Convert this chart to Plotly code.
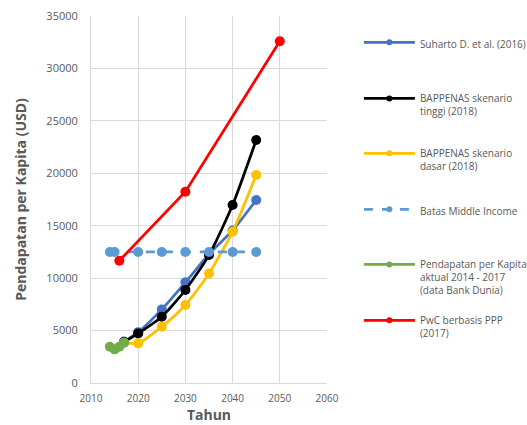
import plotly.graph_objects as go

# Income per capita projections (USD)
suharto_years = [2017, 2020, 2025, 2030, 2035, 2040, 2045]
suharto_vals = [3950, 4850, 7020, 9600, 12300, 14550, 17450]

tinggi_years = [2017, 2020, 2025, 2030, 2035, 2040, 2045]
tinggi_vals = [3900, 4730, 6320, 8870, 12200, 16970, 23170]

dasar_years = [2017, 2020, 2025, 2030, 2035, 2040, 2045]
dasar_vals = [3850, 3780, 5370, 7440, 10450, 14420, 19830]

mid_years = [2014, 2015, 2020, 2025, 2030, 2035, 2040, 2045]
mid_vals = [12500, 12500, 12500, 12500, 12500, 12500, 12500, 12500]

actual_years = [2014, 2015, 2016, 2017]
actual_vals = [3460, 3210, 3460, 3840]

pwc_years = [2016, 2030, 2050]
pwc_vals = [11660, 18240, 32600]

series = [
    ("Suharto D. et al. (2016)", suharto_years, suharto_vals, "#4472C4", "solid", "spline"),
    ("BAPPENAS skenario<br>tinggi (2018)", tinggi_years, tinggi_vals, "#000000", "solid", "spline"),
    ("BAPPENAS skenario<br>dasar (2018)", dasar_years, dasar_vals, "#FFC000", "solid", "spline"),
    ("Batas Middle Income", mid_years, mid_vals, "#5B9BD5", "dash", "linear"),
    ("Pendapatan per Kapita<br>aktual 2014 - 2017<br>(data Bank Dunia)", actual_years, actual_vals, "#70AD47", "solid", "spline"),
    ("PwC berbasis PPP<br>(2017)", pwc_years, pwc_vals, "#FF0000", "solid", "linear"),
]

# legend tops (container coords) for each entry
legend_y = [0.931, 0.799, 0.670, 0.538, 0.4085, 0.277]

FONT = "Open Sans"
fig = go.Figure()
layout_legends = {}
for i, (name, xs, ys, color, dash, shape) in enumerate(series):
    lg = "legend" if i == 0 else f"legend{i + 1}"
    fig.add_trace(go.Scatter(
        x=xs, y=ys, name=name, mode="lines+markers",
        line=dict(color=color, width=2.75, dash=dash, shape=shape, smoothing=0.6),
        marker=dict(color=color, size=10),
        showlegend=False,
    ))
    # legend key with the small marker style
    fig.add_trace(go.Scatter(
        x=[None], y=[None], name=name, mode="lines+markers",
        line=dict(color=color, width=2.75, dash=dash),
        marker=dict(color=color, size=6),
        legend=lg, showlegend=True,
    ))
    layout_legends[lg] = dict(
        xref="container", yref="container",
        x=0.681, y=legend_y[i], xanchor="left", yanchor="top",
        valign="top", itemwidth=51, bgcolor="rgba(0,0,0,0)",
        font=dict(family=FONT, size=10, color="#595959"),
    )

fig.update_layout(
    width=527, height=425,
    margin=dict(l=91, r=200, t=16, b=42, autoexpand=False),
    paper_bgcolor="white", plot_bgcolor="white",
    font=dict(family=FONT, color="#595959"),
    showlegend=True,
    **layout_legends,
)
fig.update_xaxes(
    range=[2010, 2060], dtick=10, tick0=2010, tickformat="d",
    showgrid=True, gridcolor="#D9D9D9", gridwidth=1,
    showline=True, linecolor="#D9D9D9", zeroline=False, automargin=False,
    ticks="", ticklabelstandoff=6, tickfont=dict(size=10, color="#595959"),
    title=dict(text="<b>Tahun</b>", font=dict(size=14, color="#595959"), standoff=4),
)
fig.update_yaxes(
    range=[0, 35000], dtick=5000, tickformat="d",
    showgrid=True, gridcolor="#D9D9D9", gridwidth=1,
    showline=True, linecolor="#D9D9D9", zeroline=False, automargin=False,
    ticks="", ticklabelstandoff=10, tickfont=dict(size=11, color="#595959"),
    title=dict(text="<b>Pendapatan per Kapita (USD)</b>", font=dict(size=14, color="#595959"), standoff=16),
)

fig.write_html("out.html")
